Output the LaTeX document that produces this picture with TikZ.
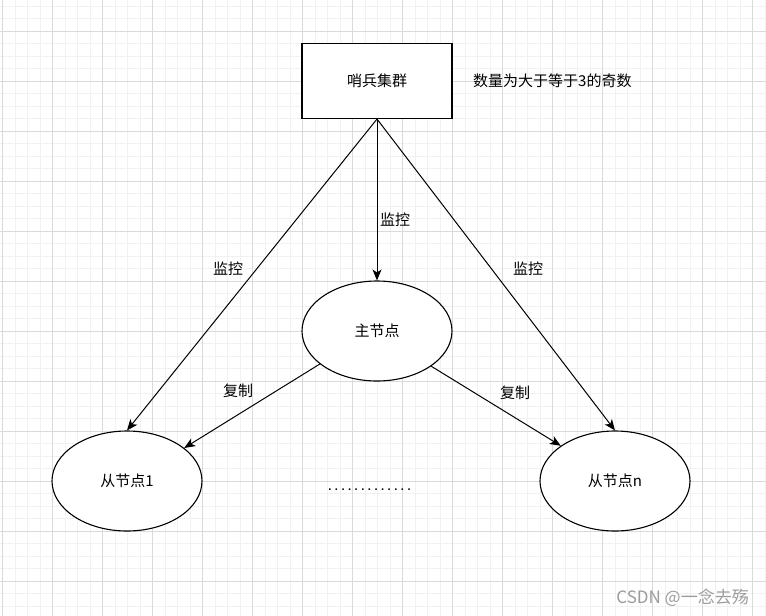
\documentclass[tikz,border=0pt]{standalone}
\usepackage{fontspec}
\setmainfont{Noto Sans CJK SC}
\newfontfamily\dotfont{Liberation Mono}
\usetikzlibrary{shapes.geometric,arrows.meta}
\definecolor{minorgrid}{HTML}{F1F1F1}
\definecolor{majorgrid}{HTML}{DADADA}
\definecolor{markgray}{HTML}{9C9C9C}

\begin{document}
\begin{tikzpicture}[
        x=1pt, y=-1pt,
        font=\fontsize{15}{18}\selectfont,
        box/.style={
            draw,
            line width=1.1pt,
            minimum width=150pt,
            minimum height=75pt,
            inner sep=0pt
        },
        role/.style={
            draw,
            ellipse,
            line width=1.1pt,
            minimum width=150pt,
            minimum height=100pt,
            inner sep=0pt
        },
        link/.style={
            line width=1pt,
            -{Stealth[length=11pt,width=9pt,inset=3pt]}
        },
        tag/.style={
            inner sep=1pt
        }
    ]
        \useasboundingbox (0,0) rectangle (766,616);
        \fill[white] (0,0) rectangle (766,616);

        % Grid (minor, then major)
        \foreach \k in {0,...,61} \draw[minorgrid, line width=1pt] ({2.5+12.5*\k},0) -- ({2.5+12.5*\k},616);
        \foreach \k in {0,...,48} \draw[minorgrid, line width=1pt] (0,{6+12.5*\k}) -- (766,{6+12.5*\k});
        \foreach \k in {0,...,15} \draw[majorgrid, line width=0.9pt] ({2.5+50*\k},0) -- ({2.5+50*\k},616);
        \foreach \k in {0,...,11} \draw[majorgrid, line width=0.9pt] (0,{31+50*\k}) -- (766,{31+50*\k});

        % Sentinel cluster
        \node[box, fill=white] (sentinel) at (377,81) {哨兵集群};
        \node[tag, anchor=west] (note) at (472,81) {数量为大于等于3的奇数};

        % Master and slaves
        \node[role, fill=white] (master) at (377,331) {主节点};
        \node[role, fill=white] (slave1) at (127,481) {从节点1};
        \node[role, fill=white] (slaven) at (615,481) {从节点n};
        \node[tag, anchor=base] (dots) at (369.5,490) {\dotfont\bfseries\fontsize{11}{12}\selectfont .............};

        % Monitoring
        \draw[link] (sentinel.south) -- (master.north);
        \draw[link] (sentinel.south) -- (slave1.north);
        \draw[link] (sentinel.south) -- (slaven.north);
        \node[tag] (watchmid) at (395,220) {监控};
        \node[tag] (watchleft) at (228,269) {监控};
        \node[tag] (watchright) at (528,269) {监控};

        % Replication
        \draw[link] (master.210) -- (slave1.30);
        \draw[link] (master.327) -- (slaven.147);
        \node[tag] (copyleft) at (238,391) {复制};
        \node[tag] (copyright) at (515,393) {复制};

        % Watermark
        \node[tag, anchor=east, text=markgray, font=\fontsize{17}{20}\selectfont] (mark) at (750,598) {CSDN @一念去殇};
    \end{tikzpicture}
\end{document}
